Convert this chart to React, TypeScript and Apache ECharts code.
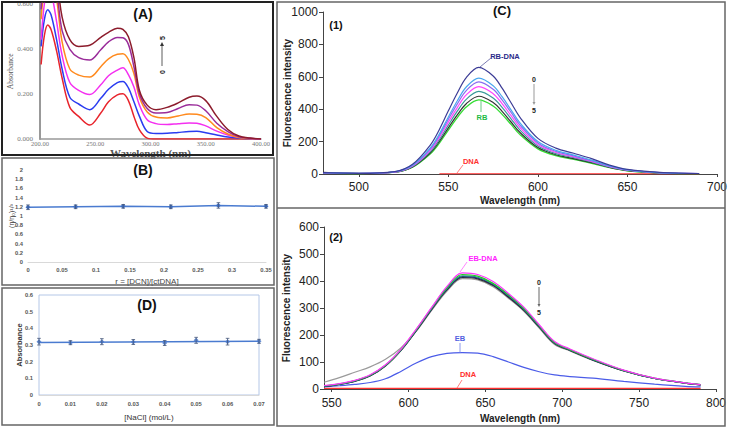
import React, { useEffect, useRef } from 'react';
import * as echarts from 'echarts';

const SANS = 'Liberation Sans, Arial, sans-serif';
const SERIF = 'Liberation Serif, Times New Roman, serif';

// Panel A: UV-Vis absorbance spectra
const aWavelength = [201, 204, 207, 210, 215, 220, 227, 235, 245, 255, 262, 270, 275, 280, 285, 290, 297, 305, 315, 325, 335, 342, 350, 360, 370, 380, 390, 400];
const aRed = [0.33, 0.46, 0.505, 0.485, 0.39, 0.27, 0.14, 0.1, 0.062, 0.115, 0.165, 0.195, 0.2, 0.17, 0.1, 0.04, 0.004, 0, 0, 0, 0, 0, 0, 0, 0, 0, 0, 0];
const aBlue = [0.41, 0.53, 0.572, 0.55, 0.44, 0.31, 0.185, 0.155, 0.13, 0.18, 0.22, 0.25, 0.255, 0.226, 0.165, 0.1, 0.033, 0.024, 0.025, 0.029, 0.033, 0.034, 0.028, 0.018, 0.009, 0.004, 0.001, 0];
const aMagenta = [0.44, 0.6, 0.66, 0.65, 0.52, 0.37, 0.25, 0.215, 0.197, 0.24, 0.28, 0.305, 0.315, 0.285, 0.23, 0.15, 0.085, 0.068, 0.064, 0.068, 0.071, 0.07, 0.058, 0.035, 0.018, 0.008, 0.002, 0];
const aOrange = [0.53, 0.68, 0.74, 0.73, 0.62, 0.43, 0.31, 0.283, 0.274, 0.32, 0.355, 0.375, 0.377, 0.352, 0.29, 0.185, 0.12, 0.097, 0.093, 0.102, 0.111, 0.11, 0.095, 0.05, 0.022, 0.007, 0.002, 0];
const aPurple = [0.574, 0.72, 0.78, 0.77, 0.66, 0.48, 0.397, 0.36, 0.35, 0.395, 0.43, 0.45, 0.448, 0.419, 0.32, 0.2, 0.135, 0.115, 0.117, 0.135, 0.152, 0.15, 0.125, 0.07, 0.033, 0.01, 0.003, 0];
const aBrown = [0.65, 0.8, 0.85, 0.84, 0.72, 0.54, 0.44, 0.41, 0.415, 0.45, 0.472, 0.49, 0.485, 0.453, 0.36, 0.215, 0.15, 0.13, 0.14, 0.16, 0.185, 0.19, 0.17, 0.1, 0.042, 0.013, 0.004, 0];

// Panel B: relative viscosity
const bRatio = [0, 0.07, 0.14, 0.21, 0.28, 0.35];
const bValue = [1.19, 1.2, 1.21, 1.2, 1.23, 1.21];
const bError = [0.05, 0.04, 0.04, 0.04, 0.06, 0.04];

// Panel D: ionic strength
const dNaCl = [0, 0.01, 0.02, 0.03, 0.04, 0.05, 0.06, 0.07];
const dValue = [0.32, 0.314, 0.32, 0.318, 0.312, 0.328, 0.32, 0.322];
const dError = [0.02, 0.012, 0.018, 0.015, 0.015, 0.018, 0.02, 0.012];
const dTrendX = [0, 0.07];
const dTrendY = [0.315, 0.322];

// Panel C(1): RB competition
const c1Wave = [480, 500, 520, 530, 540, 545, 550, 555, 560, 567, 575, 580, 585, 590, 600, 610, 620, 630, 640, 650, 670, 690];
const c1Navy = [8, 4, 15, 60, 180, 275, 390, 500, 595, 658, 605, 530, 440, 350, 220, 160, 128, 95, 55, 28, 8, 3];
const c1LightBlue = [8, 4, 14, 55, 163, 248, 352, 452, 537, 592, 545, 477, 396, 315, 200, 146, 117, 86, 50, 26, 7, 3];
const c1Violet = [7, 4, 13, 52, 156, 238, 338, 433, 515, 569, 523, 458, 380, 302, 192, 140, 112, 82, 48, 25, 7, 3];
const c1Magenta = [7, 4, 12, 49, 148, 226, 320, 410, 488, 539, 496, 434, 360, 287, 182, 133, 106, 78, 46, 24, 7, 3];
const c1Teal = [7, 3, 12, 47, 140, 213, 302, 388, 461, 510, 469, 411, 341, 271, 173, 126, 101, 74, 43, 23, 6, 3];
const c1Black = [10, 3, 11, 44, 131, 201, 285, 365, 434, 480, 441, 387, 321, 256, 163, 119, 95, 70, 41, 21, 6, 2];
const c1Green = [6, 3, 11, 42, 125, 191, 271, 348, 414, 457, 420, 368, 306, 243, 155, 113, 91, 66, 39, 20, 6, 2];
const c1DnaWave = [545, 600, 650, 690];
const c1Dna = [1, 1, 1, 1];

// Panel C(2): EB competition
const c2Wave = [545, 555, 565, 575, 585, 595, 605, 615, 625, 635, 645, 655, 665, 675, 685, 695, 705, 720, 740, 760, 780, 790];
const c2Magenta = [13, 20, 32, 53, 90, 147, 222, 302, 380, 430, 424, 398, 354, 303, 238, 176, 148, 112, 70, 40, 23, 16];
const c2Green = [12, 19, 31, 51, 88, 145, 220, 300, 376, 424, 418, 392, 349, 299, 235, 173, 146, 110, 69, 40, 23, 16];
const c2Teal = [11, 18, 30, 50, 87, 144, 218, 298, 372, 419, 414, 389, 346, 296, 233, 171, 145, 109, 68, 39, 23, 16];
const c2Navy = [10, 17, 29, 49, 86, 143, 217, 296, 370, 416, 411, 386, 343, 294, 231, 170, 144, 108, 68, 39, 22, 15];
const c2Black = [10, 17, 28, 48, 85, 142, 215, 294, 367, 413, 408, 383, 340, 291, 229, 168, 143, 107, 67, 39, 22, 15];
const c2Gray = [25, 42, 62, 82, 110, 152, 214, 291, 363, 409, 404, 379, 336, 288, 226, 165, 141, 106, 67, 39, 22, 15];
const c2EB = [8, 12, 17, 24, 38, 65, 96, 120, 132, 135, 133, 120, 100, 80, 64, 52, 46, 40, 28, 18, 10, 8];
const c2DnaWave = [545, 600, 650, 700, 750, 790];
const c2Dna = [2, 2, 2, 2, 2, 2];

const c1Ticks = [500, 550, 600, 650, 700];
const c2Ticks = [550, 600, 650, 700, 750, 800];

const pairs = (xs: number[], ys: number[]) => xs.map((x, i) => [x, ys[i]]);

const lineSeries = (name: string, idx: number, xs: number[], ys: number[], color: string, width = 1.2, smooth: number = 0.35) => ({
  name,
  type: 'line',
  xAxisIndex: idx,
  yAxisIndex: idx,
  data: pairs(xs, ys),
  showSymbol: false,
  symbol: 'none',
  smooth,
  clip: true,
  lineStyle: { color, width },
  itemStyle: { color },
  silent: true,
});

const errorSeries = (idx: number, xs: number[], ys: number[], es: number[], color: string) => ({
  type: 'custom',
  xAxisIndex: idx,
  yAxisIndex: idx,
  data: xs.map((x, i) => [x, ys[i] - es[i], ys[i] + es[i]]),
  encode: { x: 0, y: [1, 2] },
  z: 5,
  silent: true,
  renderItem: (_p: any, api: any) => {
    const x = api.value(0);
    const top = api.coord([x, api.value(2)]);
    const bot = api.coord([x, api.value(1)]);
    const w = 1.8;
    const st = { stroke: color, lineWidth: 0.8 };
    return {
      type: 'group',
      children: [
        { type: 'line', shape: { x1: top[0], y1: top[1], x2: bot[0], y2: bot[1] }, style: st },
        { type: 'line', shape: { x1: top[0] - w, y1: top[1], x2: top[0] + w, y2: top[1] }, style: st },
        { type: 'line', shape: { x1: bot[0] - w, y1: bot[1], x2: bot[0] + w, y2: bot[1] }, style: st },
      ],
    };
  },
});

const txt = (text: string, x: number, y: number, fill: string, fontSize: number, fontWeight: any = 'bold', extra: any = {}) => ({
  type: 'text',
  x,
  y,
  silent: true,
  z: 20,
  ...extra,
  style: { text, fill, fontSize, fontWeight, fontFamily: SANS, align: 'center', verticalAlign: 'middle' },
});

const seg = (x1: number, y1: number, x2: number, y2: number, stroke: string, lineWidth = 0.8) => ({
  type: 'line',
  silent: true,
  z: 20,
  shape: { x1, y1, x2, y2 },
  style: { stroke, lineWidth },
});

const box = (x: number, y: number, width: number, height: number, stroke: string, lineWidth: number) => ({
  type: 'rect',
  silent: true,
  z: 1,
  shape: { x, y, width, height },
  style: { fill: 'none', stroke, lineWidth },
});

const smallAxisLabel = { fontFamily: SANS, fontSize: 5.8, fontWeight: 'bold', color: '#555' };
const cLabel = { fontFamily: SANS, fontSize: 12, color: '#222', formatter: (v: number) => String(v) };
const cName = { fontFamily: SANS, fontSize: 10, fontWeight: 'bold', color: '#222' };

const option: any = {
  animation: false,
  backgroundColor: '#fff',
  grid: [
    { left: 40, top: 3, width: 221, height: 136 },
    { left: 28, top: 170, width: 238, height: 92 },
    { left: 39, top: 295, width: 220, height: 100, show: true, borderColor: '#b4c7e7', borderWidth: 1 },
    { left: 323, top: 12, width: 398, height: 162 },
    { left: 324, top: 227, width: 392, height: 162 },
  ],
  xAxis: [
    {
      type: 'value', gridIndex: 0, min: 200, max: 400, interval: 50,
      axisLine: { show: true, lineStyle: { color: '#999', width: 1.5 } },
      axisTick: { show: false },
      splitLine: { show: false },
      axisLabel: { fontFamily: SERIF, fontSize: 6.5, color: '#777', margin: 1, formatter: (v: number) => v.toFixed(2) },
      name: 'Wavelength (nm)', nameLocation: 'middle', nameGap: 8.5, nameMoveOverlap: false,
      nameTextStyle: { fontFamily: SERIF, fontSize: 11, fontWeight: 'bold', color: '#555' },
    },
    {
      type: 'value', gridIndex: 1, min: 0, max: 0.35, interval: 0.05,
      axisLine: { show: true, lineStyle: { color: '#d9d9d9' } },
      axisTick: { show: false },
      splitLine: { show: false },
      axisLabel: { ...smallAxisLabel, margin: 5 },
      name: 'r = [DCN]/[ctDNA]', nameLocation: 'middle', nameGap: 15, nameMoveOverlap: false,
      nameTextStyle: { fontFamily: SANS, fontSize: 8, color: '#444' },
    },
    {
      type: 'value', gridIndex: 2, min: 0, max: 0.07, interval: 0.01,
      axisLine: { show: true, lineStyle: { color: '#d9d9d9' } },
      axisTick: { show: false },
      splitLine: { show: false },
      axisLabel: { ...smallAxisLabel, margin: 6 },
      name: '[NaCl] (mol/L)', nameLocation: 'middle', nameGap: 18, nameMoveOverlap: false,
      nameTextStyle: { fontFamily: SANS, fontSize: 8, color: '#333' },
    },
    {
      type: 'value', gridIndex: 3, min: 480, max: 700,
      axisLine: { show: true, lineStyle: { color: '#444' } },
      axisTick: { show: true, customValues: c1Ticks, length: 3, lineStyle: { color: '#444' } },
      splitLine: { show: false },
      axisLabel: { ...cLabel, margin: 7, customValues: c1Ticks },
      name: 'Wavelength (nm)', nameLocation: 'middle', nameGap: 21, nameMoveOverlap: false, nameTextStyle: cName,
    },
    {
      type: 'value', gridIndex: 4, min: 545, max: 800,
      axisLine: { show: true, lineStyle: { color: '#444' } },
      axisTick: { show: true, customValues: c2Ticks, length: 3, lineStyle: { color: '#444' } },
      splitLine: { show: false },
      axisLabel: { ...cLabel, margin: 8, customValues: c2Ticks },
      name: 'Wavelength (nm)', nameLocation: 'middle', nameGap: 24, nameMoveOverlap: false, nameTextStyle: cName,
    },
  ],
  yAxis: [
    {
      type: 'value', gridIndex: 0, min: 0, max: 0.6, interval: 0.2,
      axisLine: { show: true, lineStyle: { color: '#999', width: 2 } },
      axisTick: { show: false },
      splitLine: { show: false },
      axisLabel: { fontFamily: SERIF, fontSize: 7, color: '#777', margin: 7, formatter: (v: number) => v.toFixed(3) },
      name: 'Absorbance', nameLocation: 'middle', nameGap: 26, nameMoveOverlap: false,
      nameTextStyle: { fontFamily: SERIF, fontSize: 7.5, color: '#555' },
    },
    {
      type: 'value', gridIndex: 1, min: 0, max: 2, interval: 0.2,
      axisLine: { show: false },
      axisTick: { show: false },
      splitLine: { show: false },
      axisLabel: { ...smallAxisLabel, margin: 5 },
      name: '(η/η₀)¹/³', nameLocation: 'middle', nameGap: 13.5, nameMoveOverlap: false,
      nameTextStyle: { fontFamily: SANS, fontSize: 7, color: '#333' },
    },
    {
      type: 'value', gridIndex: 2, min: 0, max: 0.6, interval: 0.1,
      axisLine: { show: false },
      axisTick: { show: false },
      splitLine: { show: false },
      axisLabel: { ...smallAxisLabel, margin: 6 },
      name: 'Absorbance', nameLocation: 'middle', nameGap: 15.5, nameMoveOverlap: false,
      nameTextStyle: { fontFamily: SANS, fontSize: 7.5, fontWeight: 'bold', color: '#333' },
    },
    {
      type: 'value', gridIndex: 3, min: 0, max: 1000, interval: 200,
      axisLine: { show: true, lineStyle: { color: '#444' } },
      axisTick: { show: true, length: 4, lineStyle: { color: '#444' } },
      splitLine: { show: false },
      axisLabel: { ...cLabel, margin: 5 },
      name: 'Fluorescence intensity', nameLocation: 'middle', nameGap: 31, nameMoveOverlap: false, nameTextStyle: cName,
    },
    {
      type: 'value', gridIndex: 4, min: 0, max: 600, interval: 100,
      axisLine: { show: true, lineStyle: { color: '#444' } },
      axisTick: { show: true, length: 4, lineStyle: { color: '#444' } },
      splitLine: { show: false },
      axisLabel: { ...cLabel, margin: 5 },
      name: 'Fluorescence intensity', nameLocation: 'middle', nameGap: 33, nameMoveOverlap: false, nameTextStyle: cName,
    },
  ],
  series: [
    lineSeries('A0', 0, aWavelength, aRed, '#e8242c', 1.5),
    lineSeries('A1', 0, aWavelength, aBlue, '#2a3cf0', 1.5),
    lineSeries('A2', 0, aWavelength, aMagenta, '#f430f0', 1.5),
    lineSeries('A3', 0, aWavelength, aOrange, '#ff8a1e', 1.5),
    lineSeries('A4', 0, aWavelength, aPurple, '#9a2c9a', 1.5),
    lineSeries('A5', 0, aWavelength, aBrown, '#8c1c2c', 1.5),

    {
      type: 'line', xAxisIndex: 1, yAxisIndex: 1, data: pairs(bRatio, bValue),
      symbol: 'diamond', symbolSize: 5, lineStyle: { color: '#4a7bd0', width: 1.5 },
      itemStyle: { color: '#3f6fc6' }, silent: true,
    },
    errorSeries(1, bRatio, bValue, bError, '#445577'),

    {
      type: 'line', xAxisIndex: 2, yAxisIndex: 2, data: pairs(dTrendX, dTrendY),
      symbol: 'none', lineStyle: { color: '#4a7bd0', width: 1.5 }, silent: true,
    },
    {
      type: 'scatter', xAxisIndex: 2, yAxisIndex: 2, data: pairs(dNaCl, dValue),
      symbol: 'diamond', symbolSize: 5, itemStyle: { color: '#3f6fc6' }, silent: true,
    },
    errorSeries(2, dNaCl, dValue, dError, '#445577'),

    lineSeries('DNA1', 3, c1DnaWave, c1Dna, '#ff3030', 1.2, 0),
    lineSeries('C1g', 3, c1Wave, c1Green, '#33dd33', 1.3),
    lineSeries('C1k', 3, c1Wave, c1Black, '#333333'),
    lineSeries('C1t', 3, c1Wave, c1Teal, '#3a9a9a'),
    lineSeries('C1m', 3, c1Wave, c1Magenta, '#ff44ff'),
    lineSeries('C1v', 3, c1Wave, c1Violet, '#8a6cf0'),
    lineSeries('C1l', 3, c1Wave, c1LightBlue, '#4aa8ee'),
    lineSeries('C1n', 3, c1Wave, c1Navy, '#3c3c96'),

    lineSeries('DNA2', 4, c2DnaWave, c2Dna, '#ff3030', 1.2, 0),
    lineSeries('EB', 4, c2Wave, c2EB, '#4b5ce8'),
    lineSeries('C2gr', 4, c2Wave, c2Gray, '#9a9a9a'),
    lineSeries('C2k', 4, c2Wave, c2Black, '#333333'),
    lineSeries('C2n', 4, c2Wave, c2Navy, '#1a1a6a'),
    lineSeries('C2t', 4, c2Wave, c2Teal, '#2a8a8a'),
    lineSeries('C2g', 4, c2Wave, c2Green, '#22cc22'),
    lineSeries('C2m', 4, c2Wave, c2Magenta, '#ff33ff'),
  ],
  graphic: [
    box(2, 2, 271, 153, '#222', 2),
    box(2, 158, 272, 127, '#666', 1.5),
    box(2, 288, 272, 137, '#666', 1.5),
    box(277, 2, 448, 424, '#666', 1.5),
    seg(277, 208, 725, 208, '#666', 1.5),

    txt('(A)', 143, 14, '#111', 14),
    txt('5', 162, 38, '#222', 7, 'bold', { rotation: Math.PI / 2 }),
    txt('0', 162, 72, '#222', 7, 'bold', { rotation: Math.PI / 2 }),
    seg(162, 66, 162, 45, '#333', 0.8),
    { type: 'polygon', silent: true, z: 20, shape: { points: [[160, 46], [164, 46], [162, 42]] }, style: { fill: '#333' } },

    txt('(B)', 143, 170, '#111', 14),
    txt('(D)', 147, 305, '#111', 14),

    txt('(C)', 502, 10, '#111', 13),
    txt('(1)', 336, 25, '#111', 11),
    txt('RB-DNA', 505, 56, '#2b2b8a', 7.5),
    seg(480, 67, 491, 58, '#5a5aa0'),
    txt('RB', 482, 117, '#22bb44', 7.5),
    seg(481, 101, 481, 112, '#44bb66'),
    txt('DNA', 471, 161, '#ff3030', 7.5),
    seg(457, 173, 463, 165, '#ff6060'),
    txt('0', 534, 79, '#222', 7),
    txt('5', 534, 110, '#222', 7),
    seg(534, 84, 534, 103, '#999', 1),
    { type: 'polygon', silent: true, z: 20, shape: { points: [[532.5, 102], [535.5, 102], [534, 105]] }, style: { fill: '#999' } },

    txt('(2)', 336, 237, '#111', 11),
    txt('EB-DNA', 483, 258, '#ff22ff', 7.5),
    seg(460, 272, 467, 262, '#ff66ff'),
    txt('EB', 460, 338, '#5060e0', 7.5),
    seg(460, 353, 460, 343, '#7080e8'),
    txt('DNA', 468, 374, '#ff3030', 7.5),
    seg(457, 388, 462, 380, '#ff6060'),
    txt('0', 539, 282, '#222', 7),
    txt('5', 539, 312, '#222', 7),
    seg(539, 287, 539, 305, '#666', 1),
    { type: 'polygon', silent: true, z: 20, shape: { points: [[537.5, 304], [540.5, 304], [539, 307]] }, style: { fill: '#666' } },
  ],
};

export default function App() {
  const ref = useRef<HTMLDivElement>(null);
  useEffect(() => {
    if (!ref.current) return;
    const chart = echarts.init(ref.current, null, { renderer: 'svg' });
    chart.setOption(option);
    return () => chart.dispose();
  }, []);
  return (
    <div
      ref={ref}
      style={{ position: 'fixed', left: 0, top: 0, width: 730, height: 428, background: '#fff' }}
    />
  );
}
